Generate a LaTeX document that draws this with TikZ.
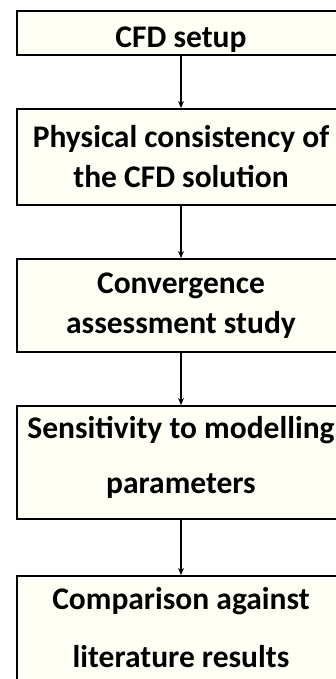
\documentclass[tikz,border=0pt]{standalone}
\usepackage{fontspec}
\setmainfont{Carlito}
\usetikzlibrary{%
  arrows.meta,%
  positioning% wg. " of "
}
\definecolor{stagefill}{RGB}{255,255,245}

\begin{document}
\begin{tikzpicture}[x=1pt,y=1pt,node distance=52pt,
    stagebox/.style={draw,line width=2pt,fill=stagefill,minimum width=328pt,
      align=center,inner sep=0pt,font=\bfseries\fontsize{31.5}{40}\selectfont},
    flow/.style={-{Stealth[length=7pt,width=6pt]},line width=1.3pt}]
    \useasboundingbox (0,0) rectangle (336,-679);

    %setup
    \node[stagebox,minimum height=44pt,text height=30pt,text depth=0pt] (s_1) at (181,-33) {CFD setup};
    %checks
    \node[stagebox,minimum height=96pt] (s_2) [below =of s_1] {Physical consistency of\\the CFD solution};
    \node[stagebox,minimum height=93pt] (s_3) [below =of s_2] {Convergence\\assessment study};
    \node[stagebox,minimum height=113pt,text depth=16pt] (s_4) [below =of s_3] {Sensitivity to modelling\\[15pt]parameters};
    %validation
    \node[stagebox,minimum height=117pt,text depth=14pt] (s_5) [below =55pt of s_4] {Comparison against\\[18pt]literature results};

    %flow
    \path[flow]
    (s_1) edge (s_2)
    (s_2) edge (s_3)
    (s_3) edge (s_4)
    (s_4) edge (s_5);

  \end{tikzpicture}
\end{document}
